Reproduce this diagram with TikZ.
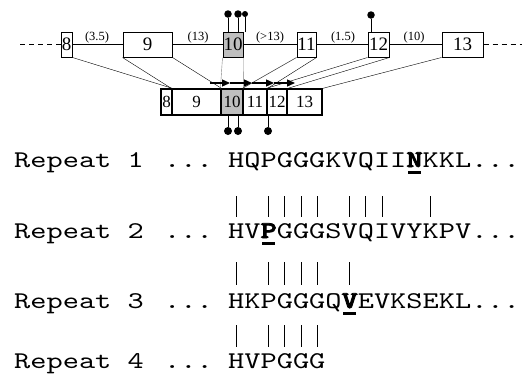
\documentclass[tikz,border=0pt]{standalone}
\usepackage{fontspec}
\setmainfont{Liberation Serif}
\newfontfamily\seqfont{lmmono10-regular.otf}
\newfontfamily\seqboldfont[FakeBold=3]{lmmonolt10-bold.otf}
\usetikzlibrary{arrows.meta}
\newcommand{\wideseq}[1]{\scalebox{1.286}[1]{#1}}
\newcommand{\bres}[1]{{\seqboldfont #1}}
\begin{document}
\begin{tikzpicture}[x=1pt,y=-1pt,
  exon/.style={draw,line width=1pt,inner sep=0pt,minimum height=25pt,font=\fontsize{19}{19}\selectfont},
  mexon/.style={draw,line width=1.2pt,inner sep=0pt,minimum height=26pt,font=\fontsize{17}{17}\selectfont},
  shaded/.style={fill=gray!50},
  gaplab/.style={inner sep=0pt,font=\fontsize{12.5}{13}\selectfont},
  intron/.style={line width=1.2pt},
  dashend/.style={line width=1.2pt,dash pattern=on 5pt off 4pt},
  thin/.style={line width=0.4pt},
  dotnode/.style={circle,fill=black,inner sep=0pt,minimum size=7.5pt},
  stick/.style={line width=0.8pt},
  arr/.style={line width=1.3pt,-{Triangle[length=8pt,width=7pt]}},
  seq/.style={inner sep=0pt,anchor=base west,font=\seqfont\fontsize{24}{28}\selectfont},
  bar/.style={line width=0.8pt},
  uline/.style={fill=black}
]
\useasboundingbox (0,0) rectangle (532,384);

% genomic exons
\node[exon,minimum width=11pt] (g8) at (66.5,44.5) {8};
\node[exon,minimum width=49pt] (g9) at (147.5,44.5) {9};
\node[exon,shaded,minimum width=20pt] (g10) at (233,44.5) {10};
\node[exon,minimum width=19pt] (g11) at (306.5,44.5) {11};
\node[exon,minimum width=21pt] (g12) at (378.5,44.5) {12};
\node[exon,minimum width=41pt] (g13) at (462.5,44.5) {13};

\coordinate (dl) at (20,44.5);
\coordinate (dr) at (522,44.5);
\draw[dashend] (dl) -- (g8.west);
\draw[dashend] (g13.east) -- (dr);
\draw[intron] (g8.east) -- (g9.west);
\draw[intron] (g9.east) -- (g10.west);
\draw[intron] (g10.east) -- (g11.west);
\draw[intron] (g11.east) -- (g12.west);
\draw[intron] (g12.east) -- (g13.west);

\node[gaplab] (l1) at (97,37) {(3.5)};
\node[gaplab] (l2) at (198,37) {(13)};
\node[gaplab] (l3) at (270,37) {(>13)};
\node[gaplab] (l4) at (343,37) {(1.5)};
\node[gaplab] (l5) at (414,37) {(10)};

% lollipops above
\node[dotnode] (t1) at (228,14) {};
\node[dotnode] (t2) at (238,14) {};
\node[dotnode,minimum size=6pt] (t3) at (245,14) {};
\node[dotnode] (t4) at (371,15) {};
\draw[stick] (t1) -- (t1 |- g10.north);
\draw[stick] (t2) -- (t2 |- g10.north);
\draw[stick] (t3) -- (t3 |- g10.north);
\draw[stick] (t4) -- (t4 |- g12.north);

% mRNA exons
\node[mexon,minimum width=11pt] (m8) at (166.5,102) {8};
\node[mexon,minimum width=49pt] (m9) at (196.5,102) {9};
\node[mexon,shaded,minimum width=22pt] (m10) at (232,102) {10};
\node[mexon,minimum width=24pt] (m11) at (255,102) {11};
\node[mexon,minimum width=20pt] (m12) at (277,102) {12};
\node[mexon,minimum width=35pt] (m13) at (304.5,102) {13};

% splicing lines
\draw[thin] (g8.south east) -- (m8.north east);
\draw[thin] (g9.south west) -- (m9.north west);
\draw[thin] (g9.south east) -- (m9.north east);
\draw[thin,gray] (g10.south west) -- (m10.north west);
\draw[thin,gray] (g10.south east) -- (m10.north east);
\draw[thin] (g11.south west) -- (m11.north west);
\draw[thin] (g11.south east) -- (m11.north east);
\draw[thin] (g12.south west) -- (m12.north west);
\draw[thin] (g12.south east) -- (m12.north east);
\draw[thin] (g13.south west) -- (m13.north east);

% arrows
\coordinate (a0) at (210,83);
\coordinate (a1) at (230,83);
\coordinate (a2) at (252,83);
\coordinate (a3) at (274,83);
\coordinate (a4) at (295,83);
\draw[arr] (a0) -- (a1);
\draw[arr] (a1) -- (a2);
\draw[arr] (a2) -- (a3);
\draw[arr] (a3) -- (a4);

% lollipops below
\node[dotnode,minimum size=8pt] (b1) at (228,131) {};
\node[dotnode,minimum size=8pt] (b2) at (238,131) {};
\node[dotnode,minimum size=8pt] (b3) at (268,131) {};
\draw[stick] (b1) -- (b1 |- m10.south);
\draw[stick] (b2) -- (b2 |- m10.south);
\draw[stick] (b3) -- (b3 |- m12.south);

% sequences
\node[seq] (r1) at (14,167) {\wideseq{Repeat 1}};
\node[seq] (e1) at (164,167) {\wideseq{...}};
\node[seq] (s1) at (228,167) {\wideseq{HQPGGGKVQII\bres{N}KKL...}};
\node[seq] (r2) at (14,238) {\wideseq{Repeat 2}};
\node[seq] (e2) at (164,238) {\wideseq{...}};
\node[seq] (s2) at (228,238) {\wideseq{HV\bres{P}GGGSVQIVYKPV...}};
\node[seq] (r3) at (14,308) {\wideseq{Repeat 3}};
\node[seq] (e3) at (164,308) {\wideseq{...}};
\node[seq] (s3) at (228,308) {\wideseq{HKPGGGQ\bres{V}EVKSEKL...}};
\node[seq] (r4) at (14,368) {\wideseq{Repeat 4}};
\node[seq] (e4) at (164,368) {\wideseq{...}};
\node[seq] (s4) at (228,368) {\wideseq{HVPGGG}};

% underlines
\fill[uline] (408,171) rectangle (421,174);
\fill[uline] (262.4,242) rectangle (275.4,245);
\fill[uline] (343.4,312) rectangle (356.4,315);

% identity bars
\foreach \i in {0,2,3,4,5,7,8,9,12}
  \draw[bar] ({228+(\i+0.5)*16.2},196) -- ({228+(\i+0.5)*16.2},217);
\foreach \i in {0,2,3,4,5,7}
  \draw[bar] ({228+(\i+0.5)*16.2},262) -- ({228+(\i+0.5)*16.2},285);
\foreach \i in {0,2,3,4,5}
  \draw[bar] ({228+(\i+0.5)*16.2},325) -- ({228+(\i+0.5)*16.2},347);
\end{tikzpicture}
\end{document}
